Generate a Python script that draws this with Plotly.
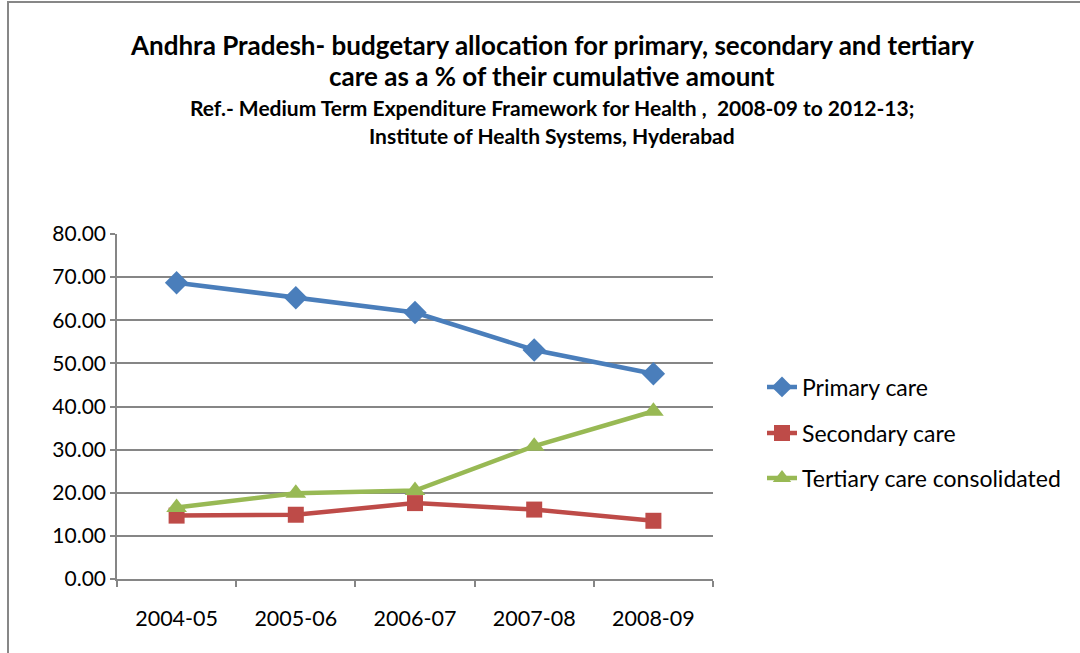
import plotly.graph_objects as go

# Fiscal years on the category axis
years = ["2004-05", "2005-06", "2006-07", "2007-08", "2008-09"]

# Share of cumulative budget (%) by level of care
primary_care = [68.7, 65.2, 61.8, 53.1, 47.6]
secondary_care = [14.7, 14.9, 17.6, 16.1, 13.5]
tertiary_care = [16.6, 19.9, 20.5, 30.8, 38.9]

y_ticks = [0, 10, 20, 30, 40, 50, 60, 70, 80]

W, H = 1080, 653
L, R, T, B = 117, 367, 234, 74
pw, ph = W - L - R, H - T - B

font_family = "Lato, 'Open Sans', sans-serif"

series = [
    ("Primary care", primary_care, "#4A7EBB", "diamond", 18, 387),
    ("Secondary care", secondary_care, "#BE4B48", "square", 16, 433),
    ("Tertiary care consolidated", tertiary_care, "#98B954", "triangle-up", 18, 478),
]

fig = go.Figure()
legend_names = ["legend", "legend2", "legend3"]
legend_layouts = {}
for (name, vals, color, symbol, msize, ly), lg in zip(series, legend_names):
    fig.add_trace(go.Scatter(
        x=years, y=vals, name=name, mode="lines+markers",
        line=dict(color=color, width=4.5),
        marker=dict(symbol=symbol, size=msize, color=color),
        legend=lg,
    ))
    legend_layouts[lg] = dict(
        x=(762 - L) / pw, y=(H - B - ly) / ph, xanchor="left", yanchor="middle",
        font=dict(family=font_family, size=23, color="#000000"),
        bgcolor="rgba(0,0,0,0)",
    )

# Title block
title_lines = [
    ("Andhra Pradesh- budgetary allocation for primary, secondary and tertiary", 45, 26),
    ("care as a % of their cumulative amount", 76, 26),
    ("Ref.- Medium Term Expenditure Framework for Health ,  2008-09 to 2012-13;", 107, 21),
    ("Institute of Health Systems, Hyderabad", 135, 21),
]
annotations = []
for text, py, size in title_lines:
    annotations.append(dict(
        text=f"<b>{text}</b>", xref="paper", yref="paper",
        x=(552 - L) / pw, y=(H - B - py) / ph, xanchor="center", yanchor="middle",
        showarrow=False, font=dict(family=font_family, size=size, color="#000000"),
    ))

# Chart frame
shapes = [dict(
    type="rect", xref="paper", yref="paper",
    x0=(8 - L) / pw, x1=(1200 - L) / pw,
    y0=(H - B - 800) / ph, y1=(H - B - 2) / ph,
    line=dict(color="#878787", width=2), fillcolor="rgba(0,0,0,0)", layer="below",
)]

fig.update_layout(
    width=W, height=H,
    margin=dict(l=L, r=R, t=T, b=B, autoexpand=False),
    paper_bgcolor="white", plot_bgcolor="white",
    font=dict(family=font_family, size=21, color="#000000"),
    annotations=annotations,
    shapes=shapes,
    showlegend=True,
    **legend_layouts,
    xaxis=dict(
        type="category", range=[-0.5, 4.5], tickson="boundaries",
        ticks="outside", ticklen=6, tickcolor="#868686", tickwidth=1.5,
        showline=True, linecolor="#868686", linewidth=1.5,
        showgrid=False, zeroline=False,
        tickfont=dict(family=font_family, size=21.5, color="#000000"),
        ticklabelstandoff=19,
    ),
    yaxis=dict(
        range=[0, 80], tickvals=y_ticks,
        ticktext=[f"{v:.2f}" for v in y_ticks],
        ticks="outside", ticklen=5, tickcolor="#868686", tickwidth=1.5,
        showline=True, linecolor="#868686", linewidth=1.5,
        showgrid=True, gridcolor="#868686", gridwidth=1.5,
        zeroline=False,
        tickfont=dict(family=font_family, size=21, color="#000000"),
    ),
)

fig.write_html("out.html")
